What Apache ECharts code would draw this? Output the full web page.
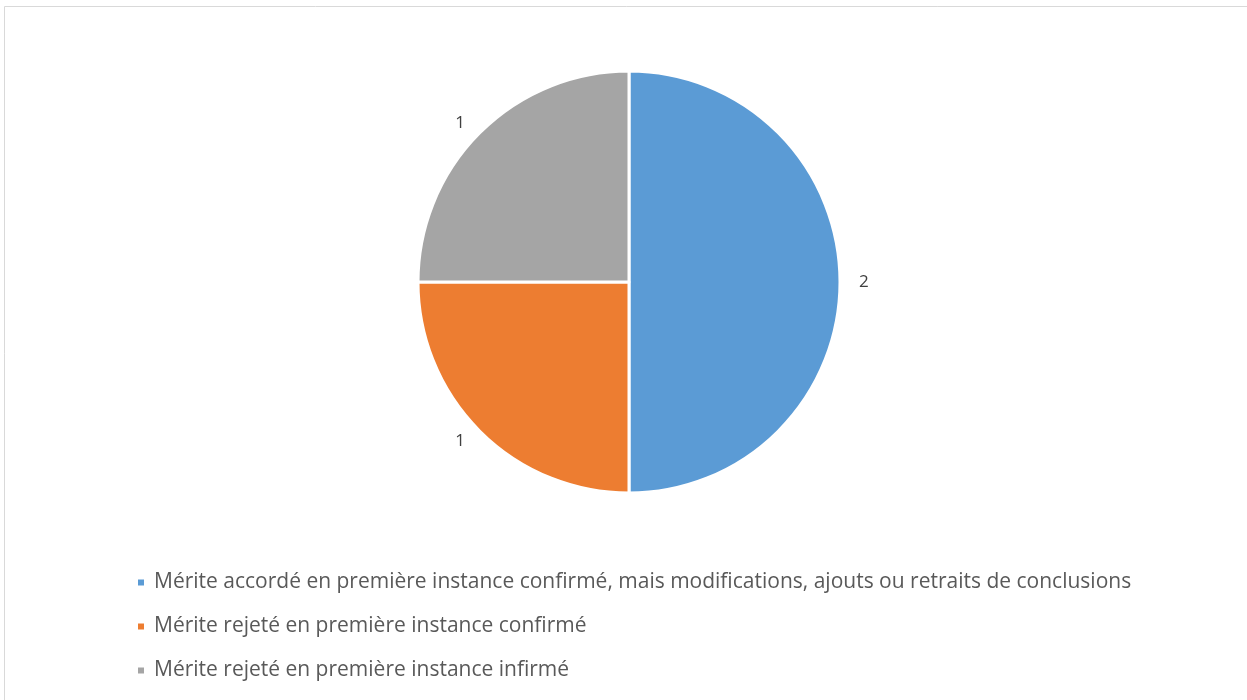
<!DOCTYPE html>
<html>
<head>
<meta charset="utf-8">
<script src="https://cdn.jsdelivr.net/npm/echarts@6/dist/echarts.min.js"></script>
<style>
  html, body { margin: 0; padding: 0; background: #fff; }
  #chart { width: 1247px; height: 700px; }
</style>
</head>
<body>
<div id="chart"></div>
<script>
const categories = [
  'Mérite accordé en première instance confirmé, mais modifications, ajouts ou retraits de conclusions',
  'Mérite rejeté en première instance confirmé',
  'Mérite rejeté en première instance infirmé'
]
const values = [2, 1, 1]
const colors = ['#5B9BD5', '#ED7D31', '#A5A5A5']

const chart = echarts.init(document.getElementById('chart'))

chart.setOption({
  color: colors,
  graphic: [{
    type: 'rect',
    shape: { x: 4.5, y: 6.5, width: 1250, height: 720 },
    style: { fill: 'none', stroke: '#d9d9d9', lineWidth: 1 },
    silent: true
  }],
  legend: {
    orient: 'vertical',
    left: 131,
    top: 567,
    itemWidth: 8,
    itemHeight: 8,
    itemGap: 23,
    icon: 'rect',
    textStyle: { color: '#595959', fontSize: 21, fontFamily: 'Open Sans', padding: [0, 0, 0, 4] }
  },
  series: [{
    type: 'pie',
    center: [629, 282],
    radius: [0, 211],
    startAngle: 90,
    clockwise: true,
    data: categories.map((name, i) => ({ name, value: values[i] })),
    itemStyle: { borderColor: '#fff', borderWidth: 3 },
    label: {
      show: true,
      position: 'outside',
      formatter: '{c}',
      color: '#404040',
      fontSize: 17,
      fontFamily: 'Open Sans'
    },
    labelLine: { show: false, length: 14, length2: 0 },
    emphasis: { disabled: true }
  }]
})
</script>
</body>
</html>
